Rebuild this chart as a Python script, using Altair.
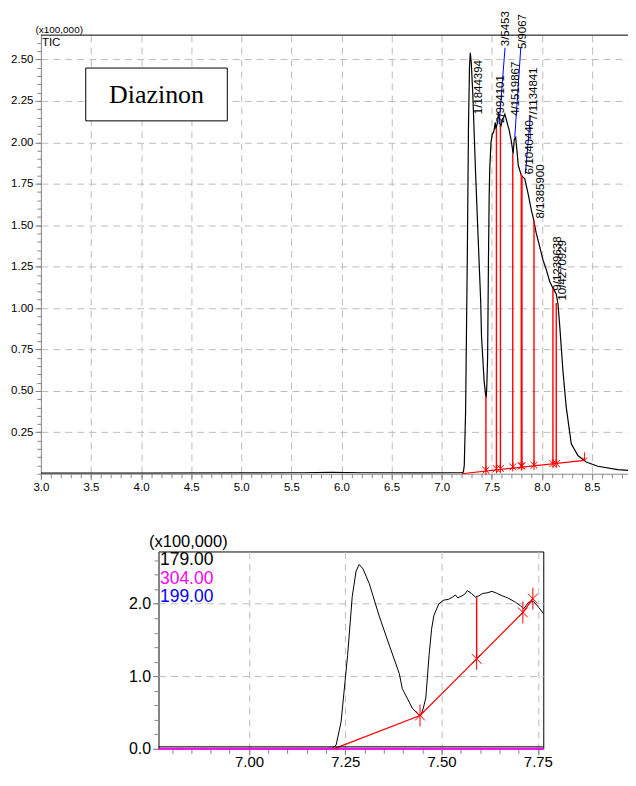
import altair as alt
import pandas as pd

# ---------------- data (intensity in units of x100,000) ----------------
tic_time = [3.00, 4.00, 5.00, 5.60, 5.90, 6.20, 6.80, 7.20, 7.217, 7.226, 7.239, 7.256,
            7.268, 7.278, 7.286, 7.296, 7.312, 7.338, 7.364, 7.390, 7.398, 7.424, 7.440,
            7.446, 7.452, 7.459, 7.4675, 7.474, 7.480, 7.493, 7.506, 7.518, 7.528, 7.536,
            7.542, 7.553, 7.560, 7.567, 7.578, 7.588, 7.597, 7.606, 7.618, 7.631, 7.645,
            7.657, 7.672, 7.692, 7.705, 7.713, 7.720, 7.726, 7.739, 7.752, 7.765, 7.796,
            7.830, 7.863, 7.896, 7.912, 7.945, 7.979, 8.012, 8.045, 8.079, 8.111, 8.144,
            8.161, 8.178, 8.211, 8.244, 8.294, 8.360, 8.443, 8.559, 8.758, 8.920]
tic_int = [0.004, 0.004, 0.005, 0.006, 0.008, 0.006, 0.005, 0.006, 0.010, 0.05, 0.37, 1.29,
           2.10, 2.45, 2.54, 2.48, 2.28, 1.83, 1.43, 1.04, 0.83, 0.56, 0.47,
           0.46, 0.55, 0.70, 1.29, 1.65, 1.84, 2.00, 2.05, 2.06, 2.09, 2.12,
           2.08, 2.11, 2.13, 2.18, 2.14, 2.09, 2.11, 2.14, 2.15, 2.17, 2.14,
           2.11, 2.08, 2.02, 1.97, 1.93, 1.98, 2.02, 2.03, 1.95, 1.86, 1.80,
           1.78, 1.69, 1.59, 1.55, 1.45, 1.37, 1.29, 1.23, 1.16, 1.12, 1.085,
           1.025, 0.90, 0.62, 0.40, 0.18, 0.11, 0.071, 0.045, 0.025, 0.017]

# integration marks on the TIC
peak_time = [7.442, 7.547, 7.587, 7.710, 7.795, 7.802, 7.922, 8.111, 8.144]
peak_top = [0.47, 2.08, 2.10, 1.93, 1.81, 1.80, 1.53, 1.12, 1.03]
peak_base = [0.021, 0.030, 0.032, 0.041, 0.047, 0.048, 0.051, 0.061, 0.062]
base_time = [7.20, 8.427]
base_int = [0.0, 0.081]
end_time = [8.427]
end_int = [0.081]

# peak labels
label_text = ["1/1844394", "2/994101", "3/5453", "4/1519867", "5/9067",
              "6/1040440", "7/1134841", "8/1385900", "9/1239638", "10/4270929"]
label_time = [7.373, 7.589, 7.644, 7.738, 7.813, 7.886, 7.922, 7.992, 8.161, 8.216]
label_int = [2.17, 2.117, 2.58, 2.16, 2.563, 1.808, 2.13, 1.54, 1.105, 1.045]

# leader lines (blue)
lead_t1 = [7.633, 7.790, 7.886]
lead_v1 = [2.571, 2.571, 2.16]
lead_t2 = [7.574, 7.730, 7.836]
lead_v2 = [2.11, 2.03, 1.81]

# bottom panel (mass chromatograms)
mc_base_time = [7.22, 7.444, 7.591, 7.711, 7.737]
mc_base_int = [0.0, 0.46, 1.24, 1.88, 2.07]
mc_rule_time = [7.591]
mc_rule_low = [1.24]
mc_rule_high = [2.09]
ion304_time = [6.765, 7.764]
ion304_int = [0.0, 0.0]
ion_names = ["179.00", "304.00", "199.00"]
ion_colors = ["#000000", "#ff00ff", "#0000ff"]

# axis tick values
top_x_major = [3.0, 3.5, 4.0, 4.5, 5.0, 5.5, 6.0, 6.5, 7.0, 7.5, 8.0, 8.5]
top_x_minor = [round(3.0 + 0.1 * i, 1) for i in range(60)]
top_y_major = [0.25, 0.5, 0.75, 1.0, 1.25, 1.5, 1.75, 2.0, 2.25, 2.5]
top_y_minor = [round(0.05 * i, 2) for i in range(53)]
bot_x_major = [7.0, 7.25, 7.5, 7.75]
bot_x_minor = [round(6.8 + 0.05 * i, 2) for i in range(20)]
bot_y_major = [0.0, 1.0, 2.0]
bot_y_minor = [round(0.2 * i, 1) for i in range(14)]

# ---------------- frames ----------------
tic = pd.DataFrame({"t": tic_time, "v": tic_int})
peaks = pd.DataFrame({"t": peak_time, "top": peak_top, "base": peak_base})
base = pd.DataFrame({"t": base_time, "v": base_int})
endp = pd.DataFrame({"t": end_time, "v": end_int})
labels = pd.DataFrame({"t": label_time, "v": label_int, "txt": label_text})
leads = pd.DataFrame({"t1": lead_t1, "v1": lead_v1, "t2": lead_t2, "v2": lead_v2})
mcb = pd.DataFrame({"t": mc_base_time, "v": mc_base_int})
mcm = mcb.iloc[1:]
mcr = pd.DataFrame({"t": mc_rule_time, "lo": mc_rule_low, "hi": mc_rule_high})
i304 = pd.DataFrame({"t": ion304_time, "v": ion304_int})

SANS = "Liberation Sans, Arial, Helvetica"
GRID = "#bdbdbd"
RED = "#ff0000"
NOSTROKE = alt.ViewBackground(stroke="transparent", strokeWidth=0)

TW, TH = 595, 440
BW, BH = 386, 198

AST_TOP = "M-1,-1L1,1M-1,1L1,-1M0,-1.3L0,1.3"
AST_BOT = "M-0.45,-0.45L0.45,0.45M-0.45,0.45L0.45,-0.45M0,-1L0,1"
ARROW = "M0,-2L0,0M-0.6,-0.7L0,0L0.6,-0.7"

xs_top = alt.Scale(domain=[3.0, 8.92], nice=False, zero=False)
ys_top = alt.Scale(domain=[0, 2.647], nice=False, zero=False)

major_x_top = alt.Axis(values=top_x_major, format=".1f", orient="bottom", title=None,
                       tickSize=6, grid=True, gridDash=[7, 5], gridColor=GRID,
                       labelFont=SANS, labelFontSize=11.5, labelPadding=2, labelFlush=False)
minor_x_top = alt.Axis(values=top_x_minor, labels=False, orient="bottom", title=None,
                       tickSize=4, grid=False, domain=False)
major_y_top = alt.Axis(values=top_y_major, format=".2f", orient="left",
                       title="(x100,000)", titleAngle=0, titleAlign="left",
                       titleBaseline="alphabetic", titleX=-6, titleY=-3,
                       titleFont=SANS, titleFontSize=10, titleFontWeight="normal",
                       tickSize=6, grid=True, gridDash=[7, 5], gridColor=GRID,
                       labelFont=SANS, labelFontSize=11.5, labelPadding=2, labelFlush=False)
minor_y_top = alt.Axis(values=top_y_minor, labels=False, orient="left", title=None,
                       tickSize=4, grid=False, domain=False)

tic_line = alt.Chart(tic).mark_line(color="black", strokeWidth=1.2, clip=True).encode(
    x=alt.X("t:Q", scale=xs_top, axis=major_x_top),
    y=alt.Y("v:Q", scale=ys_top, axis=major_y_top),
)
base_line = alt.Chart(base).mark_line(color=RED, strokeWidth=1.2).encode(
    x=alt.X("t:Q", scale=xs_top, axis=minor_x_top),
    y=alt.Y("v:Q", scale=ys_top, axis=minor_y_top),
)
peak_rules = alt.Chart(peaks).mark_rule(color=RED, strokeWidth=1.4).encode(
    x=alt.X("t:Q", scale=xs_top, axis=None),
    y=alt.Y("base:Q", scale=ys_top, axis=None),
    y2="top:Q",
)
peak_marks = alt.Chart(peaks).mark_point(shape=AST_TOP, size=49, filled=False,
                                         color=RED, strokeWidth=1, opacity=1).encode(
    x=alt.X("t:Q", scale=xs_top, axis=None),
    y=alt.Y("base:Q", scale=ys_top, axis=None),
)
end_mark = alt.Chart(endp).mark_point(shape=ARROW, size=64, filled=False,
                                      color=RED, strokeWidth=1, opacity=1).encode(
    x=alt.X("t:Q", scale=xs_top, axis=None),
    y=alt.Y("v:Q", scale=ys_top, axis=None),
)
lead_rules = alt.Chart(leads).mark_rule(color="#0000ff", strokeWidth=1).encode(
    x=alt.X("t1:Q", scale=xs_top, axis=None),
    y=alt.Y("v1:Q", scale=ys_top, axis=None),
    x2="t2:Q", y2="v2:Q",
)
label_marks = alt.Chart(labels).mark_text(angle=270, align="left", baseline="middle",
                                          font=SANS, fontSize=11.5, color="black").encode(
    x=alt.X("t:Q", scale=xs_top, axis=None),
    y=alt.Y("v:Q", scale=ys_top, axis=None),
    text="txt:N",
)
one = pd.DataFrame({"a": [0]})
box = alt.Chart(one).mark_rect(fill="white", stroke="black", strokeWidth=1).encode(
    x=alt.value(45), x2=alt.value(187), y=alt.value(33), y2=alt.value(86))
box_text = alt.Chart(one).mark_text(text="Diazinon", font="Liberation Serif", fontSize=26,
                                    align="center", baseline="middle", color="black").encode(
    x=alt.value(116), y=alt.value(60))
tic_text = alt.Chart(one).mark_text(text="TIC", font=SANS, fontSize=11.5, align="left",
                                    baseline="middle", color="black").encode(
    x=alt.value(1), y=alt.value(7.5))
top_border = alt.Chart(one).mark_rule(color="black", strokeWidth=1).encode(
    x=alt.value(0), x2=alt.value(TW), y=alt.value(0))

top = alt.layer(
    tic_line, base_line, peak_rules, peak_marks, end_mark, lead_rules, label_marks,
    box, box_text, tic_text, top_border,
).resolve_axis(x="independent", y="independent").properties(
    width=TW, height=TH, view=NOSTROKE)

# ---------------- bottom panel ----------------
xs_bot = alt.Scale(domain=[6.765, 7.764], nice=False, zero=False)
ys_bot = alt.Scale(domain=[0, 2.72], nice=False, zero=False)

major_x_bot = alt.Axis(values=bot_x_major, format=".2f", orient="bottom", title=None,
                       tickSize=6, grid=True, gridDash=[7, 5], gridColor=GRID,
                       labelFont=SANS, labelFontSize=15, labelPadding=0, labelFlush=False)
minor_x_bot = alt.Axis(values=bot_x_minor, labels=False, orient="bottom", title=None,
                       tickSize=4.5, grid=False, domain=False)
major_y_bot = alt.Axis(values=bot_y_major, format=".1f", orient="left",
                       title="(x100,000)", titleAngle=0, titleAlign="left",
                       titleBaseline="alphabetic", titleX=-10, titleY=-5,
                       titleFont=SANS, titleFontSize=16.5, titleFontWeight="normal",
                       tickSize=6, grid=True, gridDash=[7, 5], gridColor=GRID,
                       labelFont=SANS, labelFontSize=16, labelPadding=2, labelFlush=False)
minor_y_bot = alt.Axis(values=bot_y_minor, labels=False, orient="left", title=None,
                       tickSize=4.5, grid=False, domain=False)

b_tic = alt.Chart(tic).mark_line(color="black", strokeWidth=1, clip=True).encode(
    x=alt.X("t:Q", scale=xs_bot, axis=major_x_bot),
    y=alt.Y("v:Q", scale=ys_bot, axis=major_y_bot),
)
b_304 = alt.Chart(i304).mark_line(color="#ff00ff", strokeWidth=2).encode(
    x=alt.X("t:Q", scale=xs_bot, axis=minor_x_bot),
    y=alt.Y("v:Q", scale=ys_bot, axis=minor_y_bot),
)
b_base = alt.Chart(mcb).mark_line(color=RED, strokeWidth=1.2).encode(
    x=alt.X("t:Q", scale=xs_bot, axis=None),
    y=alt.Y("v:Q", scale=ys_bot, axis=None),
)
b_rule = alt.Chart(mcr).mark_rule(color=RED, strokeWidth=1.4).encode(
    x=alt.X("t:Q", scale=xs_bot, axis=None),
    y=alt.Y("lo:Q", scale=ys_bot, axis=None),
    y2="hi:Q",
)
b_marks = alt.Chart(mcm).mark_point(shape=AST_BOT, size=484, filled=False,
                                    color=RED, strokeWidth=1, opacity=1).encode(
    x=alt.X("t:Q", scale=xs_bot, axis=None),
    y=alt.Y("v:Q", scale=ys_bot, axis=None),
)
b_frame_bottom = alt.Chart(one).mark_rule(color="black", strokeWidth=1).encode(
    x=alt.value(0), x2=alt.value(BW), y=alt.value(BH - 2))
ion_layers = []
for i, (name, col) in enumerate(zip(ion_names, ion_colors)):
    ion_layers.append(
        alt.Chart(one).mark_text(text=name, font=SANS, fontSize=17.5, align="left",
                                 baseline="middle", color=col).encode(
            x=alt.value(1.5), y=alt.value(9 + 18.3 * i)))

bottom = alt.layer(
    b_tic, b_304, b_base, b_rule, b_marks, b_frame_bottom, *ion_layers
).resolve_axis(x="independent", y="independent").properties(
    width=BW, height=BH, view=alt.ViewBackground(stroke="black", strokeWidth=1))

spacer = alt.Chart(one).mark_point(opacity=0).encode(
    x=alt.value(0), y=alt.value(0)).properties(width=87, height=BH, view=NOSTROKE)

chart = alt.vconcat(
    top,
    alt.hconcat(spacer, bottom, spacing=0),
    spacing=39,
).properties(
    padding={"left": 2, "top": 1, "right": -7, "bottom": -3},
).configure_view(stroke="transparent").configure_axis(
    domainColor="black", tickColor="black", labelColor="black", titleColor="black",
    domainWidth=1, tickWidth=1,
).configure(background="white")

chart.save("out.html", embed_options={"renderer": "svg", "actions": False})
